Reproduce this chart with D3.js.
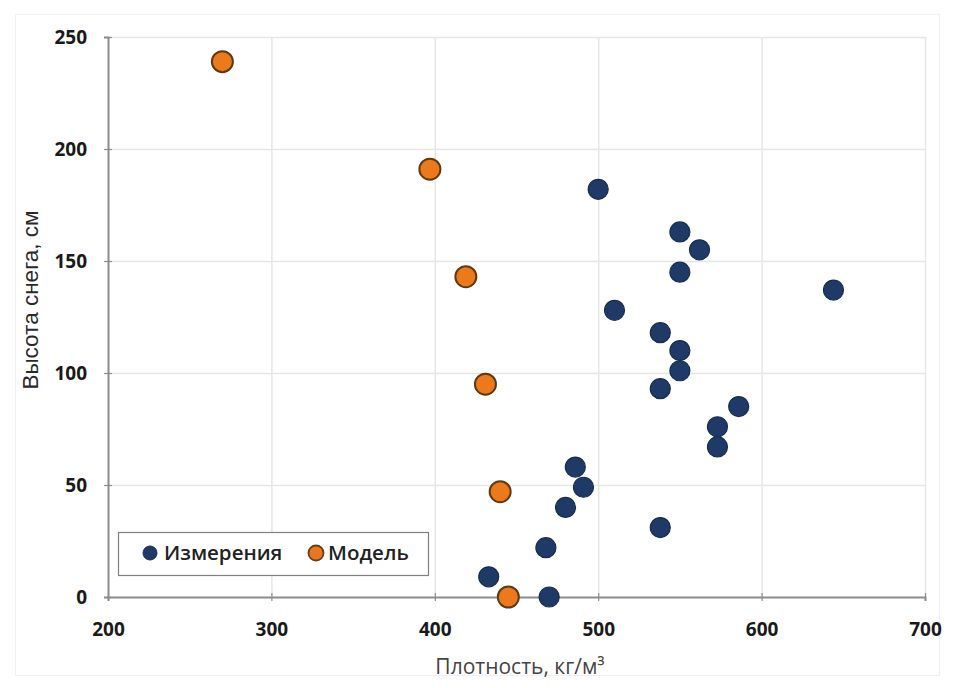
<!DOCTYPE html>
<html>
<head>
<meta charset="utf-8">
<script src="https://cdn.jsdelivr.net/npm/d3@7"></script>
<style>
  html, body { margin: 0; padding: 0; background: #fff; }
  svg { display: block; }
</style>
</head>
<body>
<svg id="chart" width="954" height="688"></svg>
<script>
// Snow density (kg/m³) vs snow depth (cm): field measurements and model
const measuredDensity = [500, 550, 562, 550, 644, 510, 538, 550, 550, 538, 586, 573, 573, 486, 491, 480, 538, 468, 433, 470];
const measuredDepth   = [182, 163, 155, 145, 137, 128, 118, 110, 101, 93, 85, 76, 67, 58, 49, 40, 31, 22, 9, 0];
const modelDensity    = [270, 397, 419, 431, 440, 445];
const modelDepth      = [239, 191, 143, 95, 47, 0];
const xTicks = [200, 300, 400, 500, 600, 700];
const yTicks = [0, 50, 100, 150, 200, 250];
const seriesNames = ["Измерения", "Модель"];

const svg = d3.select("#chart");
const margin = { left: 108, right: 29, top: 37, bottom: 91 };
const W = 954, H = 688;
const tickFont = "'Open Sans', 'DejaVu Sans', sans-serif";

// faint outer frame
svg.append("rect").attr("x", 15.5).attr("y", 14.5).attr("width", 924).attr("height", 661)
  .attr("fill", "none").attr("stroke", "#f0f0f0");

const x = d3.scaleLinear().domain([200, 700]).range([margin.left, W - margin.right]);
const y = d3.scaleLinear().domain([0, 250]).range([H - margin.bottom, margin.top]);

// gridlines
svg.append("g").selectAll("line").data(yTicks.filter(d => d > 0)).join("line")
  .attr("x1", x(200)).attr("x2", x(700))
  .attr("y1", d => y(d) + 0.5).attr("y2", d => y(d) + 0.5)
  .attr("stroke", "#e6e6e6").attr("stroke-width", 1.5);
svg.append("g").selectAll("line").data(xTicks.filter(d => d > 200)).join("line")
  .attr("y1", y(0)).attr("y2", y(250))
  .attr("x1", d => x(d) + 0.5).attr("x2", d => x(d) + 0.5)
  .attr("stroke", "#e6e6e6").attr("stroke-width", 1.5);

// axes
const xAxis = svg.append("g").attr("transform", `translate(0,${y(0)})`)
  .call(d3.axisBottom(x).tickValues(xTicks).tickSize(4).tickPadding(22));
const yAxis = svg.append("g").attr("transform", `translate(${x(200)},0)`)
  .call(d3.axisLeft(y).tickValues(yTicks).tickSize(4).tickPadding(17));
xAxis.selectAll(".tick line").attr("y1", -4).attr("y2", 4);
yAxis.selectAll(".tick line").attr("x1", -4).attr("x2", 4);
[xAxis, yAxis].forEach(a => {
  a.select(".domain").attr("stroke", "#8c8c8c").attr("stroke-width", 2);
  a.selectAll(".tick line").attr("stroke", "#8c8c8c").attr("stroke-width", 1.2);
  a.selectAll(".tick text").attr("fill", "#1a1a1a")
    .attr("font-family", tickFont)
    .attr("font-weight", "bold").attr("font-size", 19);
});

// axis titles
svg.append("text").attr("x", 520).attr("y", 674).attr("text-anchor", "middle")
  .attr("font-family", tickFont).attr("font-size", 21).attr("fill", "#444")
  .text("Плотность, кг/м³");
svg.append("text").attr("transform", "translate(38,300) rotate(-90)").attr("text-anchor", "middle")
  .attr("font-family", "'Liberation Sans', Arial, sans-serif").attr("font-size", 22.5).attr("fill", "#2a2a2a")
  .text("Высота снега, см");

// legend
const lg = svg.append("g");
lg.append("rect").attr("x", 118.5).attr("y", 532.5).attr("width", 310).attr("height", 43)
  .attr("fill", "#fff").attr("stroke", "#7f7f7f").attr("stroke-width", 1.2);
lg.append("circle").attr("cx", 150).attr("cy", 553).attr("r", 7).attr("fill", "#1f3a66").attr("stroke", "#172d50");
lg.append("text").attr("x", 164).attr("y", 560).text(seriesNames[0])
  .attr("font-family", tickFont).attr("font-weight", 600).attr("font-size", 20.5).attr("fill", "#222");
lg.append("circle").attr("cx", 316).attr("cy", 553).attr("r", 7.5).attr("fill", "#e87722").attr("stroke", "#6b3d12").attr("stroke-width", 1.8);
lg.append("text").attr("x", 328).attr("y", 560).text(seriesNames[1])
  .attr("font-family", tickFont).attr("font-weight", 600).attr("font-size", 20.5).attr("fill", "#222");

// points
const measured = measuredDensity.map((d, i) => ({ x: d, y: measuredDepth[i] }));
const model = modelDensity.map((d, i) => ({ x: d, y: modelDepth[i] }));

svg.append("g").selectAll("circle").data(measured).join("circle")
  .attr("cx", d => x(d.x)).attr("cy", d => y(d.y)).attr("r", 10)
  .attr("fill", "#1f3a66").attr("stroke", "#172d50").attr("stroke-width", 1.2);

svg.append("g").selectAll("circle").data(model).join("circle")
  .attr("cx", d => x(d.x)).attr("cy", d => y(d.y)).attr("r", 10.5)
  .attr("fill", "#ec7a1c").attr("stroke", "#5e3a14").attr("stroke-width", 2);
</script>
</body>
</html>
